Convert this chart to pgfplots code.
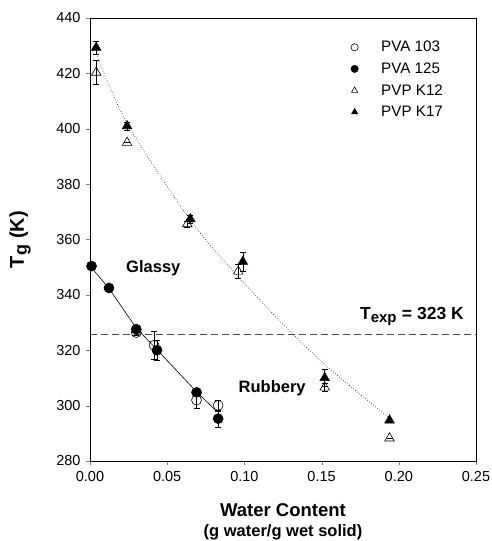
\documentclass[border=0pt]{standalone}
\usepackage{pgfplots}
\pgfplotsset{compat=1.18}
\usepackage{fontspec}
\setmainfont{Liberation Sans}
\begin{document}
\begin{tikzpicture}
\begin{axis}[
  scale only axis, width=386pt, height=443pt,
  xmin=0, xmax=0.25, ymin=280, ymax=440,
  xtick={0,0.05,0.1,0.15,0.2,0.25},
  ytick={280,300,...,440},
  tick align=outside, major tick length=4pt,
  xtick pos=bottom, ytick pos=left,
  x tick label style={/pgf/number format/fixed, /pgf/number format/fixed zerofill, /pgf/number format/precision=2, yshift=-3pt},
  /pgf/number format/assume math mode=true,
  tick label style={font=\fontsize{14.5}{17}\selectfont},
  yticklabel style={xshift=-2pt},
  axis line style={line width=0.8pt},
  legend style={draw=none, fill=none, at={(0.668,0.957)}, anchor=north west,
    font=\fontsize{15.2}{17}\selectfont, row sep=5.5pt,
    legend cell align=left,
    /tikz/every odd column/.append style={column sep=21pt}},
  legend image code/.code={\draw[#1,mark size=3.6pt] plot coordinates {(0.2cm,0cm)};},
  clip=false,
]
% fit lines
\addplot[black, line width=0.6pt, forget plot] coordinates {
 (0.000,350.5) (0.0123,342.3) (0.030,328.0) (0.0434,320.2) (0.069,305.0) (0.081,298.5)};
\addplot[black, dotted, line width=0.6pt, smooth, forget plot] coordinates {
 (0.004,427) (0.024,402) (0.065,367) (0.097,346) (0.131,326) (0.160,311) (0.193,296)};
% T_exp line
\addplot[black!70, dashed, dash pattern=on 7pt off 4pt, line width=0.7pt, forget plot] coordinates {(0,325.8) (0.25,325.8)};
% PVA 103
\addplot[black, only marks, mark=o, mark size=5pt, line width=0.6pt,
  error bars/.cd, y dir=both, y explicit, error bar style={line width=0.5pt}, error mark options={rotate=90, mark size=3pt}]
  coordinates {
  (0.030,326.4) +- (0,1)
  (0.0415,321.8) +- (0,5)
  (0.069,302.0) +- (0,3)
  (0.083,300.1) +- (0,2)};
\addlegendentry{PVA 103}
% PVA 125
\addplot[black, only marks, mark=*, mark size=5pt, line width=0.6pt,
  error bars/.cd, y dir=both, y explicit, error bar style={line width=0.5pt}, error mark options={rotate=90, mark size=3pt}]
  coordinates {
  (0.001,350.4) +- (0,0)
  (0.0123,342.5) +- (0,0)
  (0.030,327.6) +- (0,0)
  (0.0434,320.0) +- (0,3.5)
  (0.069,304.8) +- (0,0)
  (0.083,295.3) +- (0,3)};
\addlegendentry{PVA 125}
% PVP K12
\addplot[black, only marks, mark=triangle, mark size=5.5pt, line width=0.6pt,
  error bars/.cd, y dir=both, y explicit, error bar style={line width=0.5pt}, error mark options={rotate=90, mark size=3pt}]
  coordinates {
  (0.004,420.3) +- (0,4.3)
  (0.024,395.0) +- (0,0)
  (0.063,365.6) +- (0,1)
  (0.096,348.5) +- (0,2.5)
  (0.152,306.6) +- (0,1.5)
  (0.194,288.2) +- (0,0)};
\addlegendentry{PVP K12}
% PVP K17
\addplot[black, only marks, mark=triangle*, mark size=5.5pt, line width=0.6pt,
  error bars/.cd, y dir=both, y explicit, error bar style={line width=0.5pt}, error mark options={rotate=90, mark size=3pt}]
  coordinates {
  (0.004,429.3) +- (0,2.4)
  (0.024,401.0) +- (0,1.5)
  (0.065,367.4) +- (0,1.5)
  (0.099,352.0) +- (0,3.5)
  (0.152,310.0) +- (0,3)
  (0.194,294.7) +- (0,0)};
\addlegendentry{PVP K17}
\node[font=\fontsize{16.5}{19}\selectfont\bfseries] at (axis cs:0.041,349.6) {Glassy};
\node[font=\fontsize{16.5}{19}\selectfont\bfseries] at (axis cs:0.118,306.3) {Rubbery};
\node[font=\fontsize{17.5}{20}\selectfont\bfseries] at (axis cs:0.2085,332.3) {T\textsubscript{\fontsize{15}{17}\selectfont exp} = 323 K};
\node[font=\fontsize{18.5}{21}\selectfont\bfseries] at ([yshift=-49pt]rel axis cs:0.5,0) {Water Content};
\node[font=\fontsize{16.5}{19}\selectfont\bfseries] at ([yshift=-71pt]rel axis cs:0.5,0) {(g water/g wet solid)};
\node[font=\fontsize{20}{24}\selectfont\bfseries, rotate=90] at ([xshift=-70pt]rel axis cs:0,0.5) {T\textsubscript{\fontsize{18}{20}\selectfont g} (K)};
\end{axis}
\pgfresetboundingbox
\path (-90pt,-80pt) rectangle (402pt,461pt);
\end{tikzpicture}
\end{document}
